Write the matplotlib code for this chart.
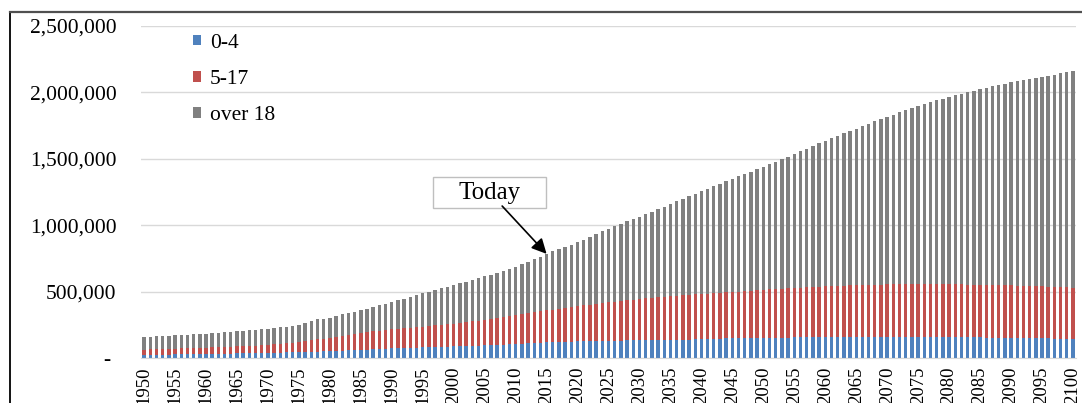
import matplotlib
matplotlib.use("Agg")
import matplotlib.pyplot as plt
from matplotlib.lines import Line2D
from matplotlib.patches import Rectangle
from matplotlib.ticker import FuncFormatter
import numpy as np

plt.rcParams['font.family'] = ['Liberation Serif', 'DejaVu Serif']

years = list(range(1950, 2101))

# population in thousands (one value per year)
age_0_4 = [
    26, 27, 27, 28, 28, 29, 30, 31, 31, 32,
    33, 34, 35, 35, 36, 37, 38, 39, 39, 40,
    41, 42, 43, 44, 45, 47, 48, 50, 51, 53,
    54, 56, 58, 60, 61, 63, 65, 68, 70, 73,
    75, 76, 78, 79, 81, 82, 84, 85, 87, 88,
    90, 92, 93, 95, 96, 98, 100, 102, 103, 105,
    107, 110, 113, 116, 118, 121, 122, 123, 125, 126,
    127, 128, 128, 129, 129, 130, 131, 133, 134, 136,
    137, 137, 138, 138, 139, 139, 140, 141, 141, 142,
    143, 144, 146, 147, 149, 150, 151, 151, 152, 152,
    153, 154, 155, 155, 156, 157, 158, 158, 159, 159,
    160, 160, 160, 160, 160, 160, 160, 160, 160, 160,
    160, 160, 160, 160, 160, 160, 160, 160, 159, 159,
    159, 159, 158, 158, 157, 157, 156, 156, 155, 154,
    153, 153, 152, 151, 151, 150, 149, 147, 146, 144,
    143,
]

age_5_17 = [
    40, 40, 41, 42, 43, 43, 44, 44, 46, 46,
    47, 48, 49, 51, 52, 53, 54, 55, 57, 58,
    59, 62, 65, 69, 72, 75, 80, 85, 91, 95,
    101, 106, 111, 116, 122, 127, 131, 134, 137, 140,
    143, 146, 148, 151, 153, 156, 158, 162, 164, 168,
    170, 174, 179, 183, 188, 192, 197, 202, 208, 213,
    218, 222, 226, 230, 235, 239, 244, 250, 254, 260,
    265, 270, 275, 280, 285, 290, 295, 298, 303, 306,
    311, 314, 317, 320, 323, 326, 329, 332, 336, 339,
    342, 343, 344, 345, 346, 347, 350, 353, 356, 359,
    362, 364, 365, 368, 369, 371, 373, 376, 377, 380,
    382, 384, 385, 387, 388, 390, 391, 392, 393, 394,
    395, 395, 395, 396, 396, 396, 396, 396, 397, 397,
    397, 396, 397, 396, 397, 396, 396, 395, 395, 395,
    395, 393, 393, 392, 391, 390, 389, 390, 389, 390,
    389,
]

over_18 = [
    94, 95, 96, 97, 98, 100, 101, 102, 103, 105,
    106, 107, 109, 110, 111, 113, 115, 117, 119, 121,
    124, 124, 125, 125, 126, 128, 134, 145, 150, 150,
    151, 156, 161, 164, 167, 170, 176, 183, 191, 197,
    205, 214, 223, 232, 242, 252, 260, 267, 275, 282,
    290, 297, 304, 311, 318, 325, 332, 340, 348, 356,
    365, 376, 387, 399, 412, 425, 437, 447, 458, 469,
    480, 495, 510, 525, 541, 555, 567, 580, 592, 605,
    617, 633, 648, 664, 679, 695, 710, 725, 740, 755,
    770, 787, 803, 820, 836, 853, 867, 882, 896, 911,
    925, 941, 958, 974, 991, 1007, 1024, 1041, 1059, 1076,
    1093, 1109, 1127, 1143, 1161, 1177, 1194, 1210, 1227, 1243,
    1260, 1277, 1294, 1310, 1327, 1344, 1357, 1370, 1383, 1396,
    1409, 1422, 1434, 1447, 1459, 1472, 1483, 1494, 1505, 1516,
    1527, 1537, 1546, 1556, 1565, 1575, 1586, 1596, 1607, 1617,
    1628,
]

series_names = ['0-4', '5-17', 'over 18']
colors = ['#4F81BD', '#C0504D', '#808080']
today_year = 2015

fig = plt.figure(figsize=(10.82, 4.03), dpi=100)
ax = fig.add_axes([0.1303, 0.1109, 0.8642, 0.8253])

x = np.array(years)
bottom = np.zeros(len(years))
for vals, name, col in zip([age_0_4, age_5_17, over_18], series_names, colors):
    v = np.array(vals) * 1000
    ax.bar(x, v, width=0.55, bottom=bottom, color=col, label=name, zorder=2)
    bottom += v

ax.set_xlim(1949.5, 2100.5)
ax.set_ylim(0, 2500000)
ax.set_yticks(np.arange(0, 2500001, 500000))
ax.yaxis.set_major_formatter(FuncFormatter(lambda v, p: '- ' if v == 0 else f'{v:,.0f}'))
ax.set_xticks([yr for yr in years if yr % 5 == 0])
ax.set_xticklabels([str(yr) for yr in years if yr % 5 == 0], rotation=90)
ax.tick_params(axis='y', length=0, pad=17.5, labelsize=15.5)
ax.tick_params(axis='x', length=0, pad=6, labelsize=13.5)
ax.grid(axis='y', color='#d9d9d9', lw=1, zorder=0)
for s in ['top', 'right', 'left']:
    ax.spines[s].set_visible(False)
ax.spines['bottom'].set_color('#d9d9d9')

ax.legend(loc='upper left', bbox_to_anchor=(0.0556, 0.976), frameon=False,
          fontsize=15.5, handlelength=0.38, handleheight=0.38, handletextpad=0.4,
          labelspacing=0.8, borderpad=0, borderaxespad=0)

# "Today" callout
i = years.index(today_year)
ax.annotate('Today', xy=(today_year, bottom[i]), xytext=(2005.8, 1246000),
            ha='center', va='center', fontsize=18,
            bbox=dict(boxstyle='square,pad=0.1', fc='none', ec='none'),
            arrowprops=dict(arrowstyle='-|>,head_length=0.6,head_width=0.3',
                            mutation_scale=15, color='black', lw=1.2,
                            shrinkA=0, shrinkB=0))
ax.add_patch(Rectangle((0.3123, 0.4519), 0.1209, 0.0932, transform=ax.transAxes,
                       fc='white', ec='#bfbfbf', lw=1, zorder=3))
ax.texts[0].set_zorder(4)

# outer frame of the screenshot
ytop = 1 - 12.3 / 403
fig.add_artist(Line2D([10 / 1082, 10 / 1082], [-0.01, ytop], color='black', lw=1.3))
fig.add_artist(Line2D([10 / 1082, 1.01], [ytop, ytop], color='#505050', lw=1.6))

fig.savefig('out.png', dpi=100)
